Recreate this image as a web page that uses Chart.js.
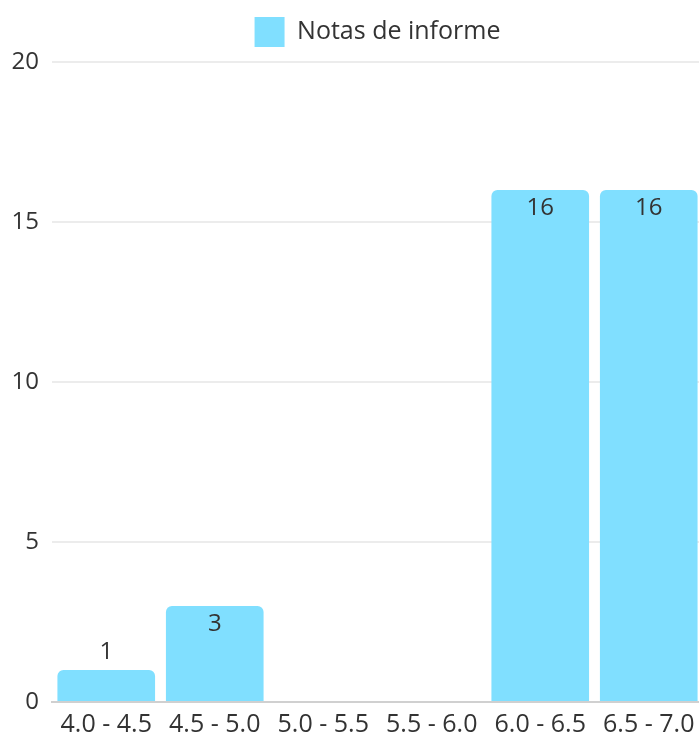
<!DOCTYPE html>
<html>
<head>
<meta charset="utf-8">
<script src="https://cdn.jsdelivr.net/npm/chart.js@4.4.1/dist/chart.umd.min.js"></script>
<style>
  html, body { margin:0; padding:0; background:#fff; overflow:hidden; }
  #wrap { width:703px; height:736px; }
</style>
</head>
<body>
<div id="wrap"><canvas id="notasChart"></canvas></div>
<script>
const rangos = ['4.0 - 4.5', '4.5 - 5.0', '5.0 - 5.5', '5.5 - 6.0', '6.0 - 6.5', '6.5 - 7.0'];
const cantidades = [1, 3, 0, 0, 16, 16];
const yTicks = [0, 5, 10, 15, 20];
const serieLabel = 'Notas de informe';
const barColor = 'rgb(128, 223, 255)';

// writes each value at the top of its bar, above it when the bar is too short
const valueLabels = {
  id: 'valueLabels',
  afterDatasetsDraw(chart){
    const ctx = chart.ctx;
    const meta = chart.getDatasetMeta(0);
    ctx.save();
    ctx.font = '24px "Open Sans"';
    ctx.fillStyle = '#333';
    ctx.textAlign = 'center';
    ctx.textBaseline = 'middle';
    meta.data.forEach((bar, i)=>{
      const v = cantidades[i];
      if(!v) return;
      const h = bar.base - bar.y;
      const y = h > 36 ? bar.y + 18 : bar.y - 18;
      ctx.fillText(String(v), bar.x, y);
    });
    ctx.restore();
  }
};

// a little extra room between the legend and the plot
const legendGap = {
  id: 'legendGap',
  afterInit(chart){
    const lg = chart.legend;
    if(!lg) return;
    const fit = lg.fit.bind(lg);
    lg.fit = function(){ fit(); this.height += 5; };
  }
};

new Chart(document.getElementById('notasChart'), {
  type:'bar',
  data:{
    labels: rangos,
    datasets:[{
      label: serieLabel,
      data: cantidades,
      backgroundColor: barColor,
      borderWidth: 0,
      borderRadius: 6,
      barPercentage: 0.9,
      categoryPercentage: 1.0
    }]
  },
  options:{
    responsive:true,
    maintainAspectRatio:false,
    animation:false,
    layout:{ padding:{ top:1, left:0, right:0, bottom:0 } },
    plugins:{
      legend:{
        position:'top',
        fullSize:false,
        labels:{ boxWidth:30, boxHeight:30, padding:16, color:'#333', font:{ family:'"Open Sans"', size:25 } }
      },
      tooltip:{ enabled:false }
    },
    scales:{
      x:{
        grid:{ display:false },
        border:{ display:true, color:'#d0d0d0', width:2 },
        ticks:{ color:'#333', padding:0, maxRotation:0, autoSkip:false, font:{ family:'"Open Sans"', size:25 } },
        afterFit(axis){ axis.height = 34; }
      },
      y:{
        min:0, max:20,
        afterBuildTicks(axis){ axis.ticks = yTicks.map(v=>({ value:v })); },
        grid:{ color:'#ececec', lineWidth:2, drawTicks:false },
        border:{ display:false },
        ticks:{ color:'#333', padding:13, font:{ family:'"Open Sans"', size:24 } },
        afterFit(axis){ axis.width = 52; }
      }
    }
  },
  plugins:[valueLabels, legendGap]
});
</script>
</body>
</html>
